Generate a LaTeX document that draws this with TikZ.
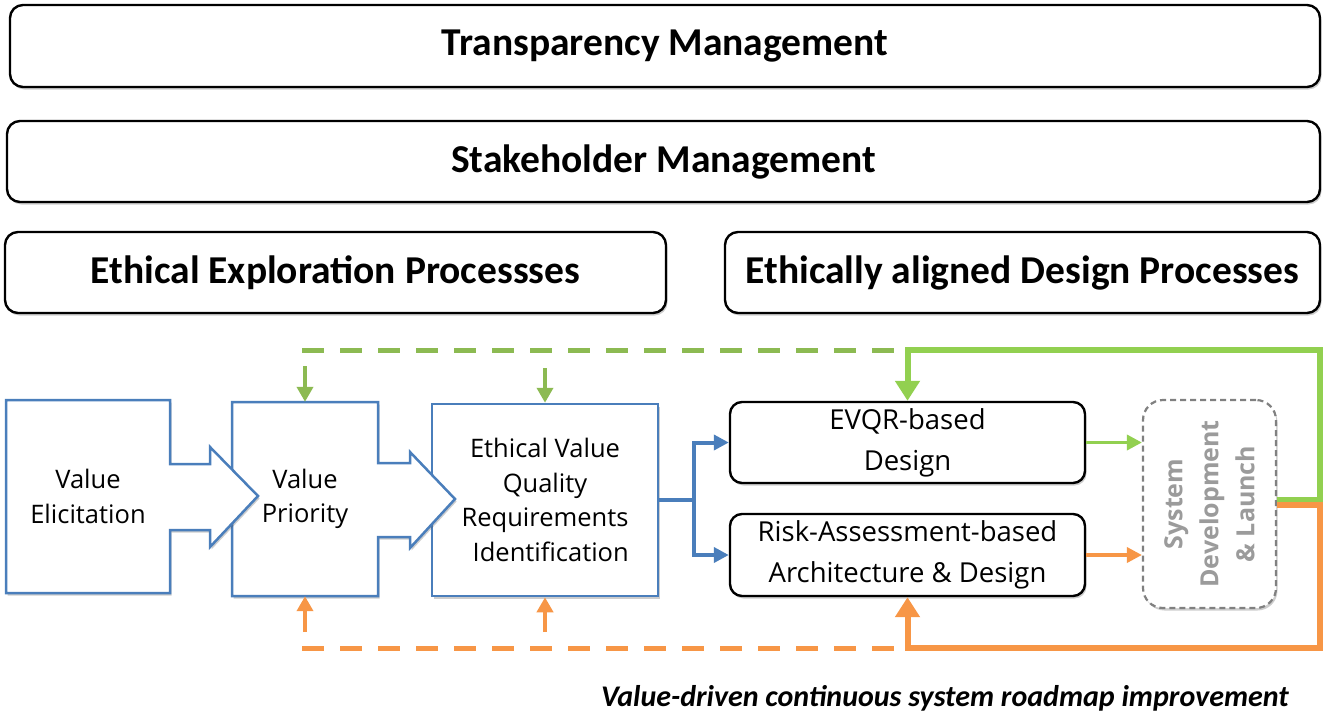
\documentclass[tikz,border=0pt]{standalone}
\usepackage{fontspec}
\setmainfont{Open Sans}
\newfontfamily\headfont{Carlito}
\usetikzlibrary{arrows.meta,shadows}

\definecolor{procblue}{RGB}{74,126,187}
\definecolor{loopgreen}{RGB}{146,208,80}
\definecolor{dashgreen}{RGB}{140,186,82}
\definecolor{looporange}{RGB}{247,150,70}
\definecolor{devgray}{RGB}{128,128,128}
\definecolor{devtext}{RGB}{155,155,155}

\begin{document}
\begin{tikzpicture}[x=1pt,y=-1pt,
  softshadow/.style={drop shadow={shadow xshift=1.5pt, shadow yshift=-2.5pt, opacity=0.28, fill=black!70}},
  headbox/.style={draw=black, line width=2.4pt, rounded corners=13pt, fill=white, inner sep=0pt,
    softshadow, font=\headfont\bfseries\fontsize{39.5}{42}\selectfont},
  procshape/.style={draw=procblue, line width=2.5pt, fill=white, line join=miter, softshadow},
  proctext/.style={align=center, inner sep=0pt, font=\fontsize{25.5}{34.5}\selectfont},
  designbox/.style={draw=black, line width=2.4pt, rounded corners=12pt, fill=white, inner sep=0pt,
    softshadow, align=center, font=\fontsize{27.5}{41}\selectfont},
  devbox/.style={draw=devgray, line width=2.2pt, dash pattern=on 6pt off 4pt, rounded corners=20pt,
    fill=white, inner sep=0pt, softshadow},
  bluelink/.style={draw=procblue, line width=4pt, line join=miter, -{Triangle[width=15pt,length=15pt]}},
  greenloop/.style={draw=loopgreen, line width=6pt, line join=miter, -{Triangle[width=24pt,length=20pt]}},
  orangeloop/.style={draw=looporange, line width=6pt, line join=miter, -{Triangle[width=24pt,length=20pt]}},
  greendash/.style={draw=dashgreen, line width=5pt, dash pattern=on 22pt off 16pt},
  orangedash/.style={draw=looporange, line width=5pt, dash pattern=on 22pt off 16pt},
  greentick/.style={draw=dashgreen, line width=4pt, -{Triangle[width=16pt,length=15pt]}},
  orangetick/.style={draw=looporange, line width=4pt, -{Triangle[width=16pt,length=15pt]}},
  feedgreen/.style={draw=loopgreen, line width=3.5pt, -{Triangle[width=15pt,length=15pt]}},
  feedorange/.style={draw=looporange, line width=3.5pt, -{Triangle[width=15pt,length=15pt]}}
]
\useasboundingbox (0,0) rectangle (1329,715);

% management layers
\node[headbox, minimum width=1310pt, minimum height=82pt] (transp) at (665,46) {Transparency Management};
\node[headbox, minimum width=1313pt, minimum height=81pt] (stake) at (663.5,161.5) {Stakeholder Management};
\node[headbox, minimum width=661pt, minimum height=81pt] (explore) at (335.5,272.5) {Ethical Exploration Processses};
\node[headbox, minimum width=595pt, minimum height=81pt] (aligned) at (1022.5,272.5) {Ethically aligned Design Processes};

% exploration chain
\node[procshape, proctext, minimum width=226pt, minimum height=192pt] (evqi) at (545,500)
  {Ethical Value\\Quality\\Requirements\\\hspace{0.45em}Identification};
\path[procshape] (232,402) -- (378,402) -- (378,463) -- (410,463) -- (410,452) -- (455,499)
  -- (410,548) -- (410,537) -- (378,537) -- (378,596) -- (232,596) -- cycle;
\path[procshape] (6,400) -- (170,400) -- (170,464) -- (210,464) -- (210,447) -- (258,496)
  -- (210,547) -- (210,530) -- (170,530) -- (170,593) -- (6,593) -- cycle;
\node[proctext, minimum width=146pt, minimum height=194pt] (vp) at (305,499) {Value\\Priority};
\node[proctext, minimum width=164pt, minimum height=193pt] (ve) at (88,496.5) {Value\\Elicitation};

% design processes
\node[designbox, minimum width=355pt, minimum height=81pt] (evqr) at (907.5,442.5) {EVQR-based\\Design};
\node[designbox, minimum width=355pt, minimum height=82pt] (risk) at (907.5,555) {Risk-Assessment-based\\Architecture \& Design};
\node[devbox, minimum width=133pt, minimum height=208pt] (sys) at (1209.5,504) {};
\node[rotate=90, align=center, text=devtext, font=\bfseries\fontsize{25}{36}\selectfont] (systext) at (sys.center)
  {System\\Development\\\& Launch};

% exploration to design
\draw[bluelink] (evqi.east) -- ++(35,0) |- (evqr.west);
\draw[bluelink] (evqi.east) -- ++(35,0) |- (risk.west);
\draw[feedgreen] (evqr.east) -- (evqr.east -| sys.west);
\draw[feedorange] (risk.east) -- (risk.east -| sys.west);

% continuous improvement loops
\coordinate (gStart) at (302,350);
\coordinate (gRight) at (1320,350);
\coordinate (oStart) at (302,648);
\coordinate (oRight) at (1320,648);
\draw[greendash] (gStart) -- (gStart -| evqr.north);
\draw[orangedash] (oStart) -- (oStart -| risk.south);
\coordinate (gA) at (305,366);
\coordinate (gB) at (545,368);
\coordinate (oA) at (305,632);
\coordinate (oB) at (545,632);
\draw[greentick] (gA) -- (vp.north);
\draw[greentick] (gB) -- (evqi.north);
\draw[orangetick] (oA) -- (vp.south);
\draw[orangetick] (oB) -- (evqi.south);
\draw[greenloop] ([yshift=4pt]sys.east) -| (gRight) -| (evqr.north);
\draw[orangeloop] ([yshift=-1pt]sys.east) -| (oRight) -| (risk.south);

% caption
\node[font=\headfont\bfseries\itshape\fontsize{30}{33}\selectfont] (caption) at (945,698)
  {Value-driven continuous system roadmap improvement};
\end{tikzpicture}
\end{document}
